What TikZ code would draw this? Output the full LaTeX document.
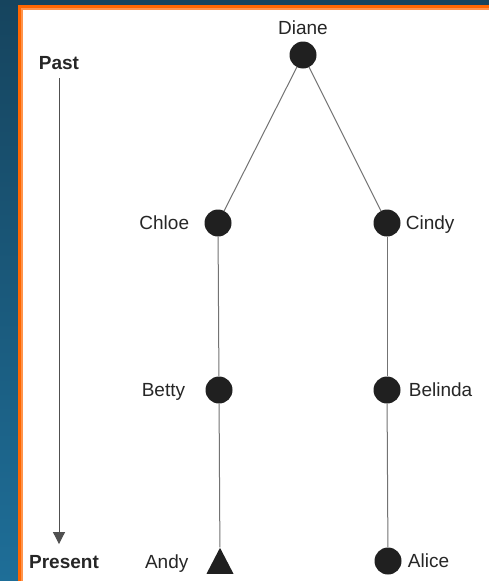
\documentclass[tikz,border=0pt]{standalone}
\usepackage{fontspec}
\setmainfont{Liberation Sans}
\usetikzlibrary{positioning, arrows.meta, shapes.geometric}

\definecolor{frametop}{RGB}{22,68,94}
\definecolor{framebottom}{RGB}{30,110,152}
\definecolor{frameorange}{RGB}{255,102,0}
\definecolor{dotgray}{RGB}{32,32,32}
\definecolor{linegray}{RGB}{115,115,115}

\begin{document}
\begin{tikzpicture}[
  x=1pt, y=-1pt,
  font=\fontsize{19}{22}\selectfont,
  node distance=6pt,
  person/.style={circle, fill=dotgray, minimum size=27pt, inner sep=0pt},
  male/.style={isosceles triangle, isosceles triangle stretches, shape border rotate=90, fill=dotgray, minimum width=27pt, minimum height=26pt, inner sep=0pt},
  kinname/.style={inner sep=0pt, text height=13.5pt, text depth=0pt, text=black!85},
  timelabel/.style={kinname, font=\fontsize{19}{22}\selectfont\bfseries},
  link/.style={draw=linegray, line width=1pt},
  timearr/.style={draw=linegray!70!black, line width=1pt, -{Triangle[length=12pt, width=12pt]}}
]
  \useasboundingbox (0,0) rectangle (489,581);
  % frame
  \shade[top color=frametop, bottom color=framebottom] (0,0) rectangle (489,581);
  \fill[frameorange] (18,5) rectangle (489,581);
  \fill[frameorange!70!white] (20.5,7.5) rectangle (489,581);
  \fill[white] (22.5,9.5) rectangle (489,581);

  % time axis
  \node[timelabel] (past) at (59,62.5) {Past};
  \node[timelabel] (present) at (64,562) {Present};
  \draw[timearr] ([yshift=-9pt]past.south) to ([yshift=11pt]present.north -| past.south);

  % family tree
  \node[person] (diane) at (303,55) {};
  \node[person] (chloe) at (218,223) {};
  \node[person] (cindy) at (387,223) {};
  \node[person] (betty) at (219,390) {};
  \node[person] (belinda) at (387,390) {};
  \node[male, anchor=south] (andy) at (220,574) {};
  \node[person] (alice) at (388,561) {};

  \node[kinname, above=7pt of diane] (dianel) {Diane};
  \node[kinname, left=15pt of chloe] (chloel) {Chloe};
  \node[kinname, right=5pt of cindy] (cindyl) {Cindy};
  \node[kinname, left=20pt of betty] (bettyl) {Betty};
  \node[kinname, right=8pt of belinda] (belindal) {Belinda};
  \node[kinname, left=22pt of andy.west |- present] (andyl) {Andy};
  \node[kinname, right=6pt of alice] (alicel) {Alice};

  \draw[link] (diane) to (chloe);
  \draw[link] (diane) to (cindy);
  \draw[link] (chloe) to (betty);
  \draw[link] (betty) to (andy);
  \draw[link] (cindy) to (belinda);
  \draw[link] (belinda) to (alice);
\end{tikzpicture}
\end{document}
